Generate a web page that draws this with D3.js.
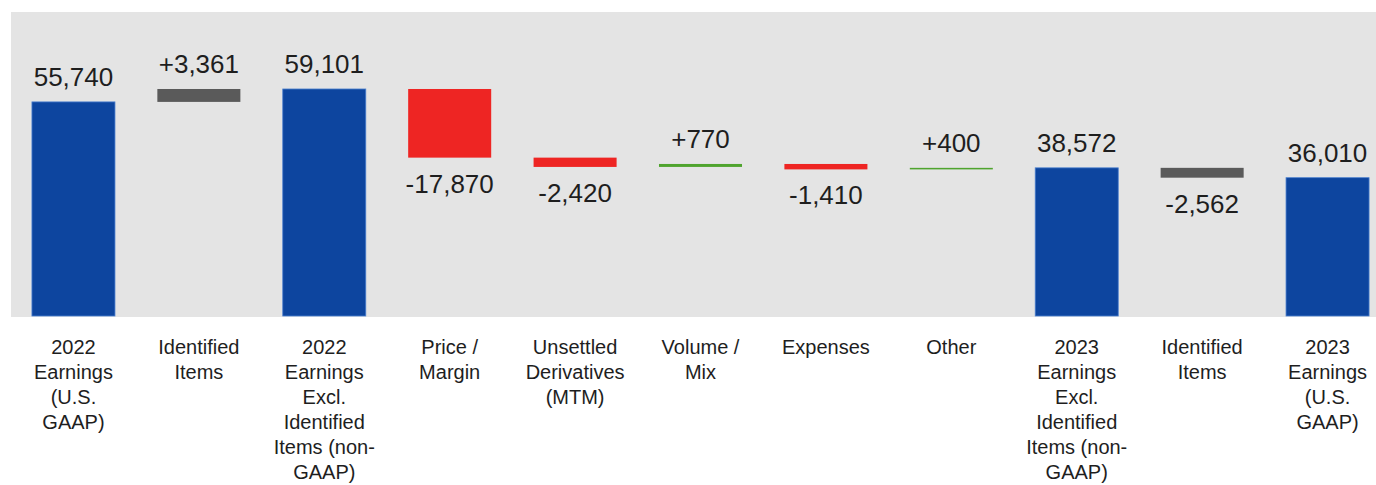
<!DOCTYPE html>
<html>
<head>
<meta charset="utf-8">
<script src="https://cdn.jsdelivr.net/npm/d3@7"></script>
<style>
  body { margin: 0; background: #fff; }
  text { font-family: "Liberation Sans", Arial, sans-serif; fill: #1e1e1e; }
</style>
</head>
<body>
<svg id="chart"></svg>
<script>
// Chart data
const categories = [
  ["2022", "Earnings", "(U.S.", "GAAP)"],
  ["Identified", "Items"],
  ["2022", "Earnings", "Excl.", "Identified", "Items (non-", "GAAP)"],
  ["Price /", "Margin"],
  ["Unsettled", "Derivatives", "(MTM)"],
  ["Volume /", "Mix"],
  ["Expenses"],
  ["Other"],
  ["2023", "Earnings", "Excl.", "Identified", "Items (non-", "GAAP)"],
  ["Identified", "Items"],
  ["2023", "Earnings", "(U.S.", "GAAP)"]
];
const values = [55740, 3361, 59101, -17870, -2420, 770, -1410, 400, 38572, -2562, 36010];
const kinds = ["total", "item", "total", "delta", "delta", "delta", "delta", "delta", "total", "item", "total"];
const valueLabels = ["55,740", "+3,361", "59,101", "-17,870", "-2,420", "+770", "-1,410", "+400", "38,572", "-2,562", "36,010"];

const width = 1376;
const height = 485;
const baseY = 316;

const svg = d3.select("#chart")
  .attr("width", width)
  .attr("height", height);

// plot background
svg.append("rect")
  .attr("x", 11)
  .attr("y", 12)
  .attr("width", width - 11)
  .attr("height", baseY - 12 + 1)
  .attr("fill", "#e4e4e4");

const x = d3.scaleBand()
  .domain(d3.range(values.length))
  .range([11, 1390])
  .paddingInner(0.338)
  .paddingOuter(0.167);

const y = d3.scaleLinear()
  .domain([0, 80000])
  .range([baseY, baseY - 80000 * 0.003841]);

// running totals for the waterfall
let running = 0;
const bars = values.map((v, i) => {
  let start, end;
  if (kinds[i] === "total") {
    start = 0; end = v; running = v;
  } else {
    start = running; end = running + v; running = end;
  }
  return { i, v, start, end, kind: kinds[i], label: valueLabels[i] };
});

function barColor(d) {
  if (d.kind === "total") return "#0d459f";
  if (d.kind === "item") return "#5a5a5a";
  return d.v < 0 ? "#ee2523" : "#4fa42e";
}

svg.selectAll(".bar")
  .data(bars)
  .enter().append("rect")
  .attr("class", "bar")
  .attr("x", d => x(d.i))
  .attr("y", d => y(Math.max(d.start, d.end)))
  .attr("width", x.bandwidth())
  .attr("height", d => Math.max(1.5, Math.abs(y(d.start) - y(d.end))))
  .attr("fill", barColor)
  .attr("stroke", d => d.kind === "total" ? "#4a7fcf" : "none")
  .attr("stroke-width", 0.8);

// value labels: above for positive, below for negative
svg.selectAll(".val")
  .data(bars)
  .enter().append("text")
  .attr("class", "val")
  .attr("x", d => x(d.i) + x.bandwidth() / 2)
  .attr("y", d => d.v >= 0 ? y(Math.max(d.start, d.end)) - 16 : y(Math.min(d.start, d.end)) + 35)
  .attr("text-anchor", "middle")
  .style("font-size", "26px")
  .text(d => d.label);

// category labels
const cat = svg.selectAll(".cat")
  .data(categories)
  .enter().append("text")
  .attr("class", "cat")
  .attr("text-anchor", "middle")
  .attr("x", (d, i) => x(i) + x.bandwidth() / 2)
  .attr("y", 354)
  .style("font-size", "20px");

cat.selectAll("tspan")
  .data((d, i) => d.map(line => ({ line, i })))
  .enter().append("tspan")
  .attr("x", d => x(d.i) + x.bandwidth() / 2)
  .attr("dy", (d, j) => j === 0 ? 0 : 25)
  .text(d => d.line);
</script>
</body>
</html>
